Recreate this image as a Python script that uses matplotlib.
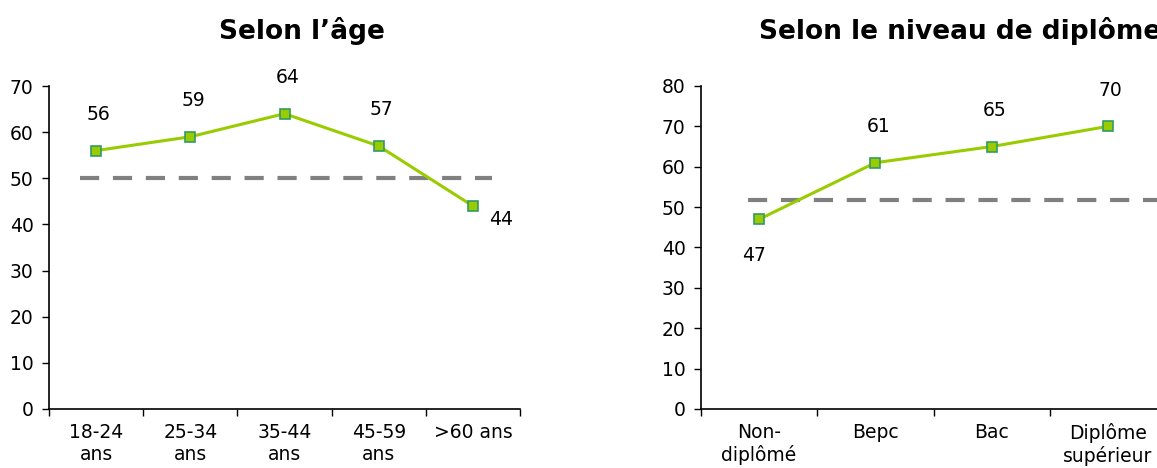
import numpy as np
import matplotlib.pyplot as plt

# Données
age_labels = ['18-24\nans', '25-34\nans', '35-44\nans', '45-59\nans', '>60 ans']
age_values = [56, 59, 64, 57, 44]
age_ref = 50

dipl_labels = ['Non-\ndiplômé', 'Bepc', 'Bac', 'Diplôme\nsupérieur']
dipl_values = [47, 61, 65, 70]
dipl_ref = 51.7

plt.rcParams['font.family'] = ['DejaVu Sans']

fig = plt.figure(figsize=(11.57, 4.68), dpi=100)
ax1 = fig.add_axes([49 / 1157, 59 / 468, 471 / 1157, 323 / 468])
ax2 = fig.add_axes([701 / 1157, 59 / 468, 465 / 1157, 323 / 468])

line_col = '#99CC00'
edge_col = '#339966'
ref_col = '#808080'
fs = 13.5


def draw_panel(ax, labels, values, ref, ymax, ref_span, label_pos):
    n = len(values)
    x = np.arange(n)
    ax.plot(ref_span, [ref, ref], color=ref_col, linewidth=3, dashes=(4.6, 3.3),
            solid_capstyle='butt', dash_capstyle='butt', zorder=2)
    ax.plot(x, values, color=line_col, linewidth=2.2, marker='s', markersize=6.5,
            markerfacecolor=line_col, markeredgecolor=edge_col, markeredgewidth=1.2,
            zorder=3, clip_on=False)
    for xi, v, pos in zip(x, values, label_pos):
        if pos == 'below':
            off = (-4, -26)
        elif pos == 'right':
            off = (20, -10)
        else:
            off = (2, 26)
        ax.annotate(str(v), (xi, v), xytext=off, textcoords='offset points',
                    ha='center', va='center', fontsize=fs, color='black')

    ax.set_xlim(-0.5, n - 0.5)
    ax.set_ylim(0, ymax)
    ax.set_yticks(np.arange(0, ymax + 1, 10))
    ax.set_xticks(np.arange(n + 1) - 0.5)
    ax.set_xticklabels([])
    ax.set_xticks(x, minor=True)
    ax.set_xticklabels(labels, minor=True, fontsize=fs, linespacing=1.2)
    ax.tick_params(axis='x', which='major', direction='out', length=5, width=1)
    ax.tick_params(axis='x', which='minor', length=0, pad=10)
    ax.tick_params(axis='y', direction='out', length=5, width=1, labelsize=fs, pad=6)
    for s in ['top', 'right']:
        ax.spines[s].set_visible(False)
    for s in ['left', 'bottom']:
        ax.spines[s].set_linewidth(1.2)


draw_panel(ax1, age_labels, age_values, age_ref, 70, [-0.17, 4.2],
           ['above', 'above', 'above', 'above', 'right'])
draw_panel(ax2, dipl_labels, dipl_values, dipl_ref, 80, [-0.1, 3.6],
           ['below', 'above', 'above', 'above'])

fig.text(302 / 1157, 1 - 31 / 468, 'Selon l\u2019âge', ha='center', va='center',
         fontsize=19, fontweight='bold')
fig.text(759 / 1157, 1 - 31 / 468, 'Selon le niveau de diplôme', ha='left', va='center',
         fontsize=19, fontweight='bold')

fig.savefig('out.png', dpi=100)
